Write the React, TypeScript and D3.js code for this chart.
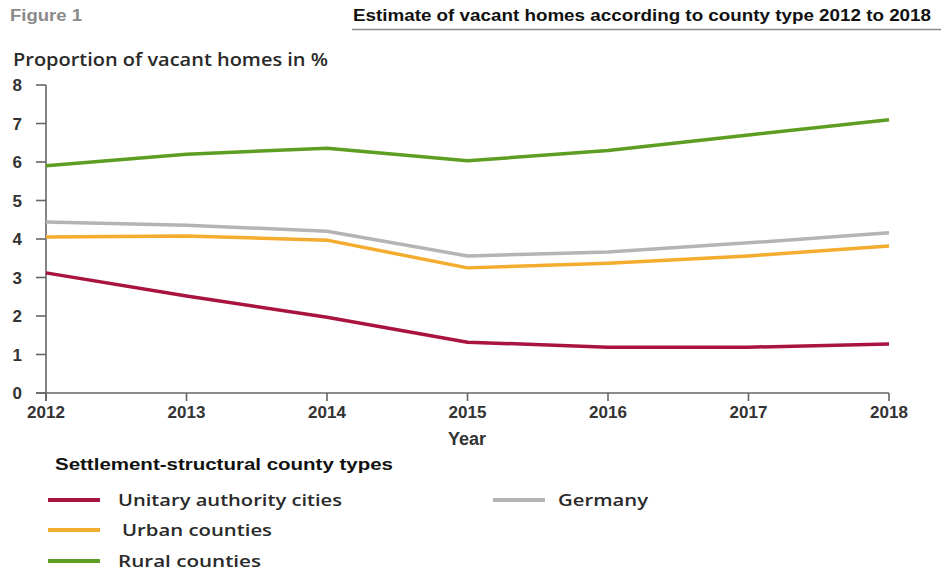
import React from "react";
import * as d3 from "d3";

const years = [2012, 2013, 2014, 2015, 2016, 2017, 2018];
const yTicks = [0, 1, 2, 3, 4, 5, 6, 7, 8];
const unitary = [3.12, 2.52, 1.97, 1.32, 1.19, 1.19, 1.27];
const urban = [4.05, 4.08, 3.97, 3.25, 3.37, 3.56, 3.82];
const rural = [5.9, 6.2, 6.36, 6.03, 6.3, 6.7, 7.1];
const germany = [4.44, 4.36, 4.2, 3.56, 3.66, 3.9, 4.16];

const seriesNames = ["Unitary authority cities", "Urban counties", "Rural counties", "Germany"];
const seriesColors = ["#a8133f", "#f4ac2e", "#5d9e22", "#b4b4b4"];
const seriesValues = [unitary, urban, rural, germany];

const FONT = "'Liberation Sans', Arial, sans-serif";
const WIDE = "'Open Sans', 'Liberation Sans', sans-serif";

export default function App() {
  const W = 946, H = 574;
  const x = d3.scaleLinear().domain([2012, 2018]).range([46, 889]);
  const y = d3.scaleLinear().domain([0, 8]).range([393, 85]);
  const line = d3.line<number>().x((_, i) => x(years[i])).y((d) => y(d));
  const drawOrder = [3, 1, 0, 2];
  const legendPos = [
    { x: 48, y: 500, tx: 118, tl: 224 },
    { x: 48, y: 530, tx: 122, tl: 150 },
    { x: 48, y: 561, tx: 118, tl: 143 },
    { x: 493, y: 500, tx: 558, tl: 90 },
  ];
  return (
    <svg width={W} height={H} style={{ position: "absolute", left: 0, top: 0, background: "#fff" }} fontFamily={FONT}>
      <rect width={W} height={H} fill="#fff" />
      <text x={10} y={21} fontSize={16} fontWeight="bold" fill="#8a8a8a" textLength={72} lengthAdjust="spacingAndGlyphs">Figure 1</text>
      <text x={353} y={21} fontSize={16} fontWeight="bold" fill="#111" textLength={578} lengthAdjust="spacingAndGlyphs">
        Estimate of vacant homes according to county type 2012 to 2018
      </text>
      <line x1={352} x2={941} y1={29.5} y2={29.5} stroke="#888" strokeWidth={1.5} />
      <text x={13} y={66} fontSize={18} fontWeight={600} fontFamily={WIDE} fill="#2a2a2a" textLength={315} lengthAdjust="spacingAndGlyphs">Proportion of vacant homes in %</text>

      {/* y axis */}
      <line x1={46} x2={46} y1={y(8)} y2={y(0) + 8} stroke="#666" strokeWidth={1.6} />
      {yTicks.map((t) => (
        <g key={t}>
          <line x1={36} x2={46} y1={y(t)} y2={y(t)} stroke="#666" strokeWidth={1.6} />
          <text x={22} y={y(t) + 6} fontSize={17} fontWeight="bold" fill="#333" textAnchor="end">{t}</text>
        </g>
      ))}
      {/* x axis */}
      <line x1={36} x2={x(2018)} y1={y(0)} y2={y(0)} stroke="#666" strokeWidth={1.6} />
      {years.map((yr) => (
        <g key={yr}>
          <line x1={x(yr)} x2={x(yr)} y1={y(0)} y2={y(0) + 8} stroke="#666" strokeWidth={1.6} />
          <text x={x(yr)} y={418} fontSize={17} fontWeight="bold" fill="#333" textAnchor="middle">{yr}</text>
        </g>
      ))}
      <text x={467} y={445} fontSize={18} fontWeight="bold" fill="#333" textAnchor="middle">Year</text>

      {drawOrder.map((i) => (
        <path key={i} d={line(seriesValues[i]) || ""} fill="none" stroke={seriesColors[i]} strokeWidth={3.5} strokeLinejoin="round" />
      ))}

      <text x={55} y={470} fontSize={17} fontWeight="bold" fill="#111" textLength={338} lengthAdjust="spacingAndGlyphs">Settlement-structural county types</text>
      {seriesNames.map((n, i) => (
        <g key={n}>
          <line x1={legendPos[i].x} x2={legendPos[i].x + 52} y1={legendPos[i].y} y2={legendPos[i].y} stroke={seriesColors[i]} strokeWidth={4} />
          <text x={legendPos[i].tx} y={legendPos[i].y + 6} fontSize={17} fontWeight={600} fontFamily={WIDE} fill="#2a2a2a" textLength={legendPos[i].tl} lengthAdjust="spacingAndGlyphs">{n}</text>
        </g>
      ))}
    </svg>
  );
}
